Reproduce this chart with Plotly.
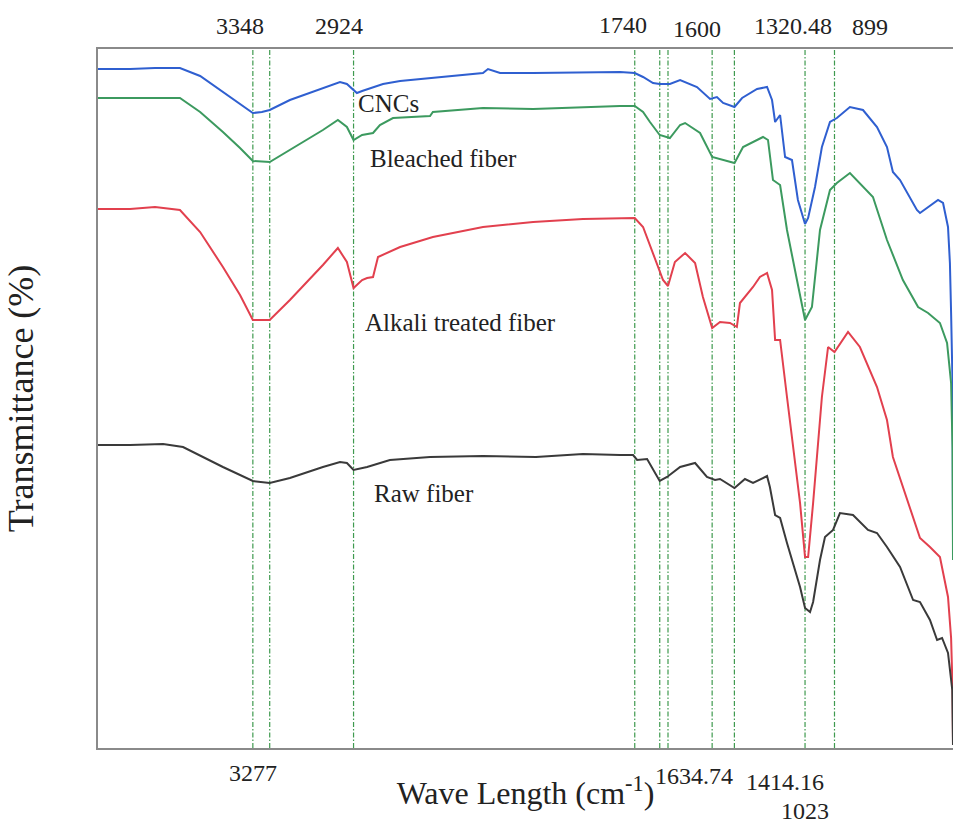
import plotly.graph_objects as go

# ---- data (wavenumber cm^-1, transmittance in arbitrary units) ----
cnc_wn = [4000, 3865, 3760, 3655, 3570, 3474, 3402, 3348, 3310, 3277, 3192, 3053, 2981, 2952, 2924,
          2910, 2888, 2842, 2800, 2728, 2602, 2379, 2358, 2307, 2168, 1958, 1802, 1740, 1705, 1663,
          1635, 1592, 1549, 1478, 1423, 1394, 1368, 1320, 1288, 1225, 1183, 1162, 1149, 1128, 1107,
          1078, 1053, 1023, 1010, 981, 952, 918, 889, 834, 779, 720, 678, 653, 623, 552, 539, 463,
          442, 421, 413, 408, 402, 400]
cnc_t = [679, 679, 680, 680, 672, 656, 644, 635, 636, 638, 648, 660, 666, 664, 658,
         655, 657, 661, 664, 667, 670, 675, 679, 675, 675, 676, 676, 675, 671, 665,
         664, 664, 668, 661, 649, 651, 645, 641, 650, 659, 661, 648, 626, 633, 591,
         588, 548, 524, 530, 561, 601, 626, 630, 641, 638, 621, 601, 576, 568, 538, 535, 548,
         545, 521, 485, 435, 365, 208]

bleached_wn = [4000, 3865, 3655, 3570, 3474, 3402, 3348, 3277, 3192, 3053, 2990, 2952, 2924, 2888,
               2842, 2813, 2758, 2602, 2590, 2379, 2168, 1958, 1802, 1740, 1705, 1676, 1650, 1635,
               1592, 1549, 1528, 1465, 1414, 1368, 1320, 1284, 1200, 1179, 1158, 1128, 1099, 1057,
               1023, 994, 960, 918, 889, 834, 737, 678, 611, 547, 505, 455, 425, 408, 402, 400]
bleached_t = [650, 650, 650, 636, 616, 600, 587, 586, 598, 618, 628, 621, 608, 613,
              615, 623, 630, 632, 636, 640, 639, 641, 642, 642, 636, 626, 617, 613,
              610, 623, 625, 615, 591, 588, 585, 601, 611, 608, 568, 563, 518, 468,
              428, 441, 518, 558, 565, 575, 551, 508, 468, 441, 435, 425, 405, 365, 300, 188]

alkali_wn = [4000, 3865, 3760, 3655, 3570, 3474, 3402, 3348, 3277, 3192, 3053, 2990, 2952, 2924,
             2888, 2867, 2842, 2821, 2728, 2590, 2379, 2168, 1958, 1802, 1740, 1705, 1663, 1621,
             1600, 1571, 1528, 1486, 1453, 1414, 1381, 1339, 1310, 1297, 1242, 1213, 1183, 1162,
             1149, 1128, 1099, 1074, 1044, 1023, 1010, 989, 981, 960, 952, 926, 899, 842, 792,
             720, 678, 653, 594, 539, 497, 455, 421, 408, 402, 400]
alkali_t = [539, 539, 541, 538, 516, 481, 453, 428, 428, 448, 483, 500, 486, 460,
            468, 470, 471, 491, 501, 511, 521, 526, 529, 530, 530, 521, 495, 468,
            462, 486, 495, 485, 451, 420, 426, 425, 421, 445, 461, 471, 475, 458,
            408, 408, 351, 301, 245, 191, 191, 245, 268, 328, 351, 401, 396, 416, 401,
            361, 328, 291, 250, 210, 201, 191, 151, 110, 60, 3]

raw_wn = [4000, 3865, 3726, 3642, 3474, 3348, 3277, 3192, 3053, 2981, 2952, 2924, 2867, 2771,
          2602, 2379, 2156, 1958, 1802, 1747, 1730, 1688, 1635, 1604, 1549, 1486, 1436, 1402,
          1381, 1320, 1276, 1242, 1183, 1171, 1149, 1128, 1099, 1074, 1044, 1023, 1002, 989,
          960, 939, 905, 876, 821, 758, 720, 678, 623, 568, 539, 497, 467, 446, 421, 403, 400]
raw_t = [303, 303, 304, 301, 281, 267, 265, 270, 281, 286, 285, 278, 281, 288,
         291, 292, 291, 294, 293, 293, 288, 289, 267, 271, 281, 285, 271, 268,
         269, 260, 269, 265, 272, 261, 233, 230, 205, 185, 161, 140, 136, 146,
         188, 211, 218, 235, 233, 218, 215, 201, 181, 148, 146, 128, 108, 110, 95, 58, 3]

series_names = ["CNCs", "Bleached fiber", "Alkali treated fiber", "Raw fiber"]
series_colors = ["#2f5fd0", "#3c9a5f", "#e2404e", "#3a3a3a"]

peak_lines = [3348, 3277, 2924, 1740, 1634.74, 1600, 1414.16, 1320.48, 1023, 899]
top_labels = ["3348", "2924", "1740", "1600", "1320.48", "899"]
bottom_labels = ["3277", "1634.74", "1414.16", "1023"]

# ---- figure ----
FONT = "Liberation Serif, Times New Roman, serif"
fig = go.Figure()
for wn, t, name, col in zip([cnc_wn, bleached_wn, alkali_wn, raw_wn],
                            [cnc_t, bleached_t, alkali_t, raw_t],
                            series_names, series_colors):
    fig.add_trace(go.Scatter(x=wn, y=t, mode="lines", name=name,
                             line=dict(color=col, width=2), showlegend=False))

for p in peak_lines:
    fig.add_shape(type="line", xref="x", yref="paper", x0=p, x1=p, y0=0, y1=1,
                  line=dict(color="#3f9a4f", width=1.2, dash="5px,2px,1.5px,2px"), layer="below")

# peak labels (position offsets in pixels relative to the line)
top_pos = {"3348": (-13, 1.033), "2924": (-15, 1.033), "1740": (-12, 1.035),
           "1600": (29, 1.029), "1320.48": (59, 1.033), "899": (36, 1.031)}
bot_pos = {"3277": (-17, -0.036), "1634.74": (34, -0.040), "1414.16": (73, -0.049),
           "1023": (0, -0.090)}
for lab in top_labels:
    dx, yy = top_pos[lab]
    fig.add_annotation(x=float(lab), y=yy, xref="x", yref="paper", text=lab, showarrow=False,
                       xshift=dx, xanchor="center", yanchor="middle",
                       font=dict(family=FONT, size=24, color="#222"))
for lab in bottom_labels:
    dx, yy = bot_pos[lab]
    fig.add_annotation(x=float(lab), y=yy, xref="x", yref="paper", text=lab, showarrow=False,
                       xshift=dx, xanchor="center", yanchor="middle",
                       font=dict(family=FONT, size=24, color="#222"))

# curve labels
curve_label_pos = [(0.302, 0.922), (0.316, 0.843), (0.310, 0.609), (0.320, 0.364)]
for name, (px, py) in zip(series_names, curve_label_pos):
    fig.add_annotation(x=px, y=py, xref="paper", yref="paper", text=name, showarrow=False,
                       xanchor="left", yanchor="middle",
                       font=dict(family=FONT, size=25, color="#222"))

fig.update_layout(
    width=955, height=826,
    margin=dict(l=98, r=2, t=49, b=78),
    paper_bgcolor="white", plot_bgcolor="white",
    xaxis=dict(range=[4000, 400], showline=True, mirror=True, linecolor="#8a8a8a", linewidth=1.5,
               showgrid=False, zeroline=False, showticklabels=False, ticks="",
               title=dict(text="Wave Length (cm<sup>-1</sup>)", standoff=33,
                          font=dict(family=FONT, size=32, color="#222"))),
    yaxis=dict(range=[0, 699], showline=True, linecolor="#8a8a8a", linewidth=1.5,
               showgrid=False, zeroline=False, showticklabels=False, ticks="",
               title=dict(text="Transmittance (%)", standoff=52,
                          font=dict(family=FONT, size=36, color="#222"))),
)

fig.write_html("out.html")
